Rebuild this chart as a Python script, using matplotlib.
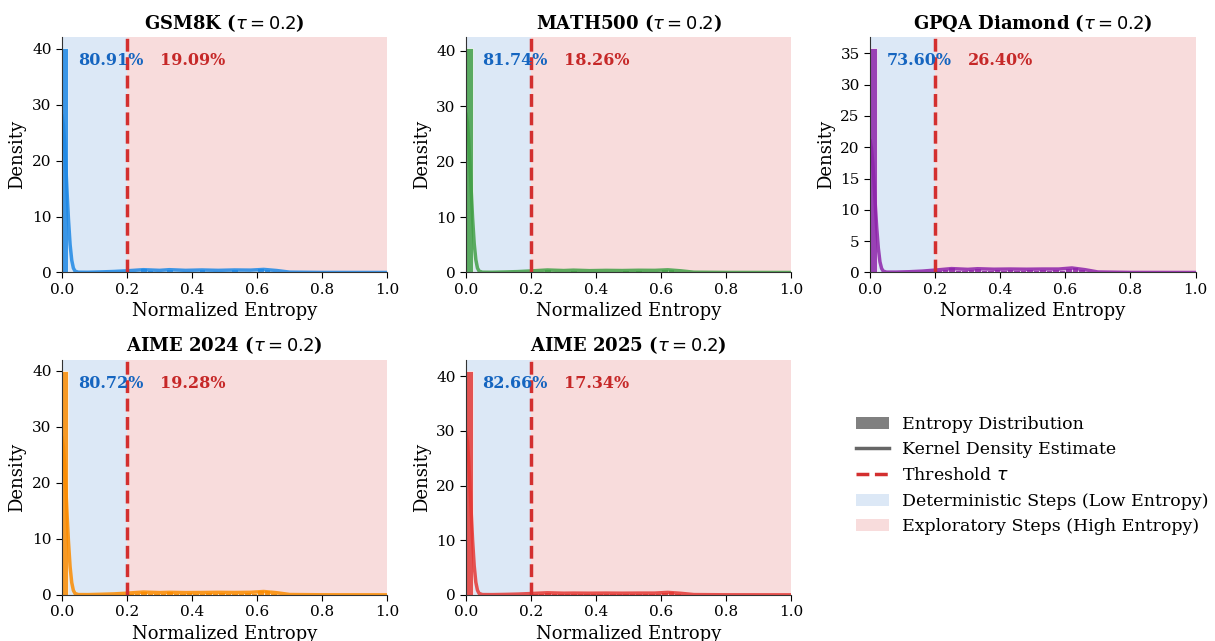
import matplotlib
matplotlib.use("Agg")
import matplotlib.pyplot as plt
import numpy as np
from matplotlib.patches import Patch
from matplotlib.lines import Line2D
from matplotlib.ticker import MultipleLocator

plt.rcParams["font.family"] = ["DejaVu Serif"]
plt.rcParams["mathtext.fontset"] = "dejavusans"

tau = 0.2

# noms des jeux de donnees et pourcentages
names = ["GSM8K", "MATH500", "GPQA Diamond", "AIME 2024", "AIME 2025"]
colors = ["#1e88e5", "#43a047", "#8e24aa", "#fb8c00", "#e53935"]
low_pct = [80.91, 81.74, 73.60, 80.72, 82.66]
high_pct = [19.09, 18.26, 26.40, 19.28, 17.34]
ytick_step = [10, 10, 5, 10, 10]

# histogrammes : 50 classes de largeur 0.02 (densite)
gsm8k_hist = [40.1, 0.0, 0.02, 0.03, 0.04, 0.05, 0.05, 0.06, 0.07, 0.09,
              0.3, 0.35, 0.8, 0.4, 0.3, 0.3, 0.7, 0.35, 0.3, 0.3,
              0.3, 0.6, 0.3, 0.3, 0.3, 0.3, 0.6, 0.3, 0.3, 0.35,
              0.8, 0.7, 0.3, 0.05, 0, 0, 0, 0, 0, 0,
              0, 0, 0, 0, 0, 0, 0, 0, 0, 0]
math500_hist = [40.4, 0.0, 0.02, 0.03, 0.03, 0.04, 0.05, 0.05, 0.06, 0.08,
                0.3, 0.35, 0.6, 0.35, 0.3, 0.3, 0.5, 0.35, 0.3, 0.3,
                0.3, 0.35, 0.3, 0.3, 0.4, 0.3, 0.45, 0.3, 0.3, 0.35,
                0.6, 0.6, 0.3, 0.05, 0, 0, 0, 0, 0, 0,
                0, 0, 0, 0, 0, 0, 0, 0, 0, 0]
gpqa_hist = [35.8, 0.0, 0.02, 0.03, 0.04, 0.05, 0.06, 0.07, 0.08, 0.1,
             0.45, 0.5, 0.8, 0.45, 0.45, 0.5, 0.7, 0.45, 0.45, 0.6,
             0.45, 0.6, 0.45, 0.45, 0.6, 0.45, 0.6, 0.45, 0.6, 0.45,
             0.7, 0.9, 0.5, 0.1, 0, 0, 0, 0, 0, 0,
             0, 0, 0, 0, 0, 0, 0, 0, 0, 0]
aime24_hist = [40.0, 0.0, 0.02, 0.03, 0.04, 0.05, 0.05, 0.06, 0.07, 0.09,
               0.35, 0.4, 0.7, 0.4, 0.35, 0.35, 0.6, 0.4, 0.35, 0.5,
               0.35, 0.4, 0.5, 0.35, 0.55, 0.4, 0.4, 0.35, 0.55, 0.4,
               0.8, 0.8, 0.35, 0.05, 0, 0, 0, 0, 0, 0,
               0, 0, 0, 0, 0, 0, 0, 0, 0, 0]
aime25_hist = [41.0, 0.0, 0.02, 0.02, 0.03, 0.04, 0.04, 0.05, 0.06, 0.07,
               0.25, 0.3, 0.5, 0.3, 0.25, 0.25, 0.4, 0.3, 0.25, 0.3,
               0.25, 0.35, 0.3, 0.25, 0.35, 0.3, 0.35, 0.25, 0.3, 0.3,
               0.45, 0.7, 0.25, 0.05, 0, 0, 0, 0, 0, 0,
               0, 0, 0, 0, 0, 0, 0, 0, 0, 0]

# estimation par noyau, valeurs lues a ces abscisses
kde_x = [0, 0.004, 0.008, 0.012, 0.016, 0.02, 0.025, 0.03, 0.035, 0.04,
         0.05, 0.08, 0.12, 0.16, 0.2, 0.25, 0.3, 0.33, 0.38, 0.43,
         0.48, 0.53, 0.58, 0.62, 0.66, 0.7, 0.8, 1.0]
gsm8k_kde = [28, 26.5, 23.5, 19, 14, 9.5, 5, 2.2, 0.8, 0.25,
             0.05, 0.04, 0.1, 0.18, 0.3, 0.5, 0.38, 0.5, 0.38, 0.45,
             0.38, 0.45, 0.42, 0.55, 0.35, 0.06, 0.01, 0.0]
math500_kde = [28.5, 27, 24, 19.5, 14.5, 9.8, 5.2, 2.3, 0.8, 0.25,
               0.05, 0.04, 0.09, 0.16, 0.28, 0.45, 0.35, 0.42, 0.33, 0.38,
               0.35, 0.4, 0.38, 0.48, 0.3, 0.05, 0.01, 0.0]
gpqa_kde = [21, 19.8, 17.5, 14.2, 10.5, 7.2, 3.9, 1.7, 0.65, 0.22,
            0.06, 0.06, 0.12, 0.22, 0.38, 0.62, 0.5, 0.6, 0.52, 0.55,
            0.52, 0.55, 0.55, 0.72, 0.45, 0.08, 0.01, 0.0]
aime24_kde = [28, 26.5, 23.5, 19, 14, 9.5, 5, 2.2, 0.8, 0.25,
              0.05, 0.04, 0.1, 0.17, 0.3, 0.5, 0.4, 0.45, 0.4, 0.42,
              0.45, 0.42, 0.45, 0.6, 0.38, 0.06, 0.01, 0.0]
aime25_kde = [29.5, 28, 24.8, 20, 14.8, 10, 5.3, 2.3, 0.85, 0.26,
              0.05, 0.04, 0.08, 0.14, 0.24, 0.38, 0.3, 0.32, 0.3, 0.32,
              0.3, 0.32, 0.32, 0.45, 0.28, 0.05, 0.01, 0.0]

hists = [gsm8k_hist, math500_hist, gpqa_hist, aime24_hist, aime25_hist]
kdes = [gsm8k_kde, math500_kde, gpqa_kde, aime24_kde, aime25_kde]

low_color = "#dce8f6"
high_color = "#f8dcdc"
thr_color = "#d32f2f"

fig, axes = plt.subplots(2, 3, figsize=(12.15, 6.41), dpi=100)
fig.subplots_adjust(left=0.051, right=0.984, top=0.942, bottom=0.072,
                    wspace=0.242, hspace=0.37)
axes = axes.ravel()

edges = np.linspace(0, 1, 51)

for i, ax in enumerate(axes[:5]):
    ax.axvspan(0, tau, color=low_color, zorder=0, lw=0)
    ax.axvspan(tau, 1, color=high_color, zorder=0, lw=0)
    ax.bar(edges[:-1], hists[i], width=np.diff(edges), align="edge",
           color=colors[i], alpha=0.85, edgecolor="white", linewidth=0.6,
           zorder=2)
    ax.plot(kde_x, kdes[i], color=colors[i], lw=2.5, alpha=0.85, zorder=3)
    ax.axvline(tau, color=thr_color, ls="--", lw=2.5, zorder=4)

    ax.set_xlim(0, 1)
    ax.set_ylim(0, max(hists[i]) * 1.05)
    ax.yaxis.set_major_locator(MultipleLocator(ytick_step[i]))
    ax.set_title(names[i] + r" ($\tau = 0.2$)", fontsize=13, fontweight="bold",
                 pad=6)
    ax.set_xlabel("Normalized Entropy", fontsize=13)
    ax.set_ylabel("Density", fontsize=13)
    ax.tick_params(labelsize=11, length=4)
    ax.spines["top"].set_visible(False)
    ax.spines["right"].set_visible(False)
    for side in ["left", "bottom"]:
        ax.spines[side].set_color("#333333")
        ax.spines[side].set_zorder(5)

    ax.text(0.05, 0.9, f"{low_pct[i]:.2f}%", transform=ax.get_xaxis_transform(),
            color="#1565c0", fontsize=11.5, fontweight="bold", va="center",
            ha="left", zorder=6)
    ax.text(tau + 0.1, 0.9, f"{high_pct[i]:.2f}%",
            transform=ax.get_xaxis_transform(), color="#c62828",
            fontsize=11.5, fontweight="bold", va="center", ha="left", zorder=6)

axes[5].axis("off")

handles = [
    Patch(facecolor="#808080", label="Entropy Distribution"),
    Line2D([0], [0], color="#666666", lw=2.5, label="Kernel Density Estimate"),
    Line2D([0], [0], color=thr_color, lw=2.5, ls="--", label=r"Threshold $\tau$"),
    Patch(facecolor=low_color, label="Deterministic Steps (Low Entropy)"),
    Patch(facecolor=high_color, label="Exploratory Steps (High Entropy)"),
]
fig.legend(handles=handles, loc="center left", bbox_to_anchor=(0.692, 0.258),
           frameon=False, fontsize=12.5, borderaxespad=0.5, handlelength=1.9,
           handletextpad=0.75)

fig.savefig("out.png", dpi=100)
